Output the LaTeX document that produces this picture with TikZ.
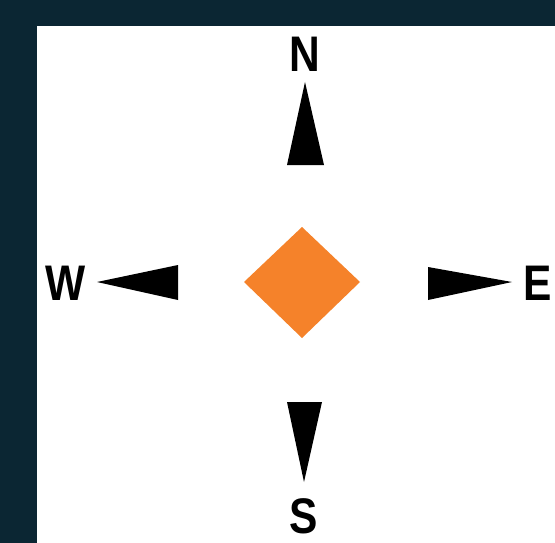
\documentclass[tikz,border=0pt]{standalone}
\usepackage{fontspec}
\setmainfont{Liberation Sans}
\definecolor{frame}{HTML}{0B2633}
\definecolor{diam}{HTML}{F5822A}
\begin{document}
\begin{tikzpicture}[x=1pt,y=-1pt,
  letter/.style={inner sep=0pt, font=\bfseries\fontsize{50}{50}\selectfont, xscale=0.85, text=black},
  pointer/.style={fill=black}]
\useasboundingbox (0,0) rectangle (555,543);
\fill[frame] (0,0) rectangle (555,543);
\fill[white] (37,26) rectangle (555,543);
% diamond
\fill[diam] (244,282) -- (302,227) -- (360,282) -- (302,338) -- cycle;
% pointers
\fill[pointer] (305,82) -- (324,165) -- (287,165) -- cycle;
\fill[pointer] (97,282) -- (178,265) -- (178,300) -- cycle;
\fill[pointer] (512,282) -- (428,267) -- (428,300) -- cycle;
\fill[pointer] (304,482) -- (287,402) -- (322,402) -- cycle;
% labels
\node[letter] (n) at (304.5,54.5) {N};
\node[letter] (w) at (66,283) {W};
\node[letter] (e) at (537.5,283) {E};
\node[letter] (s) at (303.5,516) {S};
\end{tikzpicture}
\end{document}
